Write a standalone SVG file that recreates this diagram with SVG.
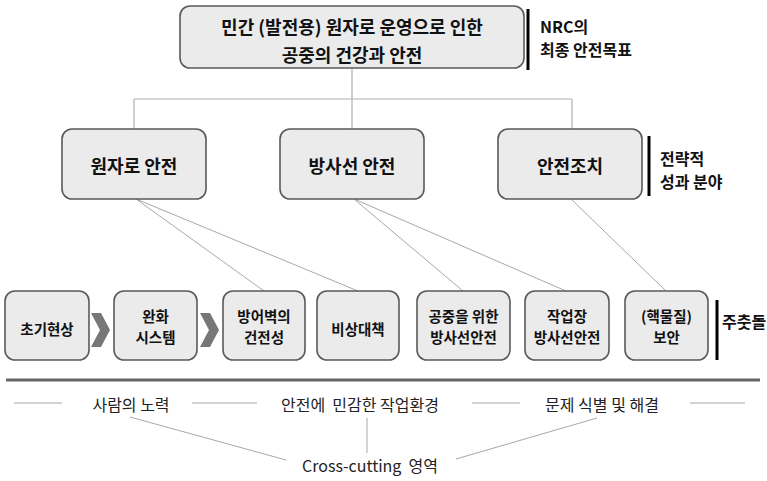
<svg xmlns="http://www.w3.org/2000/svg" width="767" height="481" viewBox="0 0 767 481">
<style>
text { font-family: "Noto Sans CJK KR", "Noto Sans", sans-serif; fill: #111; }
.box { fill: #ebebeb; stroke: #5a5a5a; stroke-width: 1.6; }
.t1 { font-size: 18px; font-weight: bold; text-anchor: middle; }
.t2 { font-size: 18px; font-weight: bold; text-anchor: middle; }
.t3 { font-size: 14.5px; font-weight: bold; text-anchor: middle; }
.lbl { font-size: 16px; font-weight: bold; }
.bar { stroke: #000; stroke-width: 3; }
.tree { stroke: #b0b0b0; stroke-width: 1.2; fill: none; }
.thin { stroke: #a8a8a8; stroke-width: 1; fill: none; }
.cc { font-size: 16px; text-anchor: middle; fill: #222; }
.chev { fill: #777; }
</style>

<g id="connectors">
  <path class="tree" d="M352 68 V99 M134 99 H572 M134 99 V129 M352 99 V129 M572 99 V129"/>
  <path class="thin" d="M136 199 L264 291 M136 199 L358 291 M354 199 L463 291 M354 199 L566 291 M571 199 L666 291"/>
  <path class="thin" d="M130 417 L286 460 M367 418 V453 M597 418 L456 459"/>
  <path class="thin" d="M14 403 H62 M192 403 H257 M472 403 H520 M690 403 H745"/>
</g>

<g id="top">
  <rect class="box" x="180" y="6" width="344" height="62" rx="10"/>
  <text class="t1" x="352" y="34">민간 (발전용) 원자로 운영으로 인한</text>
  <text class="t1" x="352" y="62">공중의 건강과 안전</text>
</g>
<g id="label-nrc">
  <line class="bar" x1="528" y1="9" x2="528" y2="70"/>
  <text class="lbl" x="540" y="33">NRC의</text>
  <text class="lbl" x="540" y="56">최종 안전목표</text>
</g>

<g id="reactor-safety">
  <rect class="box" x="62" y="129" width="144" height="70" rx="10"/>
  <text class="t2" x="134" y="173">원자로 안전</text>
</g>
<g id="radiation-safety">
  <rect class="box" x="280" y="129" width="144" height="70" rx="10"/>
  <text class="t2" x="352" y="173">방사선 안전</text>
</g>
<g id="safeguards">
  <rect class="box" x="498" y="129" width="144" height="70" rx="10"/>
  <text class="t2" x="570" y="173">안전조치</text>
</g>
<g id="label-strategic">
  <line class="bar" x1="649" y1="136" x2="649" y2="196"/>
  <text class="lbl" x="660" y="165">전략적</text>
  <text class="lbl" x="660" y="188">성과 분야</text>
</g>

<g id="initiating">
  <rect class="box" x="5" y="291" width="84" height="69" rx="10"/>
  <text class="t3" x="47" y="335">초기현상</text>
</g>
<polygon class="chev" points="91,313 101,313 110,330 101,347 91,347 100,330"/>
<g id="mitigating">
  <rect class="box" x="114" y="291" width="83" height="69" rx="10"/>
  <text class="t3" x="155.5" y="322">완화</text>
  <text class="t3" x="155.5" y="343">시스템</text>
</g>
<polygon class="chev" points="200,313 210,313 219,330 210,347 200,347 209,330"/>
<g id="barrier">
  <rect class="box" x="223" y="291" width="82" height="69" rx="10"/>
  <text class="t3" x="264" y="322">방어벽의</text>
  <text class="t3" x="264" y="343">건전성</text>
</g>
<g id="emergency">
  <rect class="box" x="317" y="291" width="82" height="69" rx="10"/>
  <text class="t3" x="358" y="335">비상대책</text>
</g>
<g id="public-rad">
  <rect class="box" x="417" y="291" width="93" height="69" rx="10"/>
  <text class="t3" x="463.5" y="322">공중을 위한</text>
  <text class="t3" x="463.5" y="343">방사선안전</text>
</g>
<g id="occupational-rad">
  <rect class="box" x="525" y="291" width="84" height="69" rx="10"/>
  <text class="t3" x="567" y="322">작업장</text>
  <text class="t3" x="567" y="343">방사선안전</text>
</g>
<g id="security">
  <rect class="box" x="625" y="291" width="83" height="69" rx="10"/>
  <text class="t3" x="666.5" y="322">(핵물질)</text>
  <text class="t3" x="666.5" y="343">보안</text>
</g>
<g id="label-cornerstone">
  <line class="bar" x1="717" y1="300" x2="717" y2="360"/>
  <text class="lbl" x="722" y="328">주춧돌</text>
</g>

<line x1="6" y1="380" x2="760" y2="380" stroke="#666" stroke-width="3"/>

<g id="cross-cutting">
  <text class="cc" x="131" y="411">사람의 노력</text>
  <text class="cc" x="360" y="411" xml:space="preserve">안전에  민감한 작업환경</text>
  <text class="cc" x="602" y="411">문제 식별 및 해결</text>
  <text class="cc" x="370" y="472" xml:space="preserve">Cross-cutting  영역</text>
</g>
</svg>
